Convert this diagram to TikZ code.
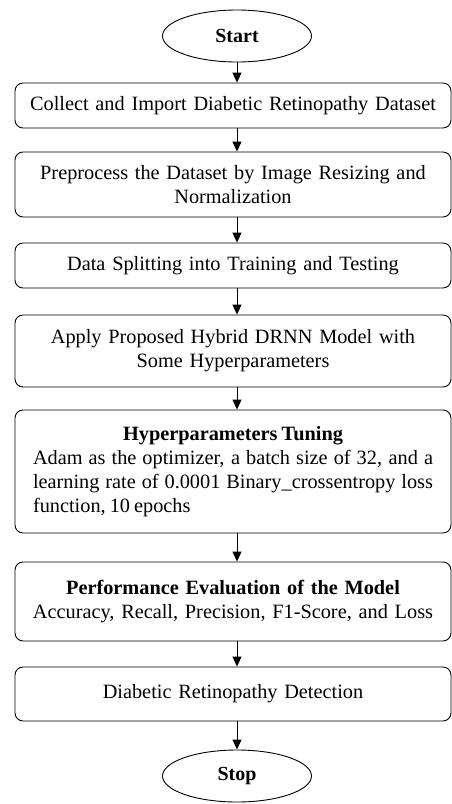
\documentclass[tikz,border=0pt]{standalone}
\usepackage{fontspec}
\setmainfont[WordSpace=0.8]{Liberation Serif}
\usetikzlibrary{shapes.geometric,arrows.meta}

\tikzset{
  stepbox/.style={draw, rounded corners=8pt, minimum width=436pt, text width=424pt,
                  align=center, inner sep=0pt, line width=0.9pt},
  terminal/.style={draw, ellipse, minimum width=149pt, minimum height=52pt,
                   inner sep=0pt, font=\fontsize{20}{24}\selectfont\bfseries, line width=0.9pt},
  flow/.style={-{Triangle[length=10pt,width=9pt]}, line width=0.9pt},
}

\begin{document}
\begin{tikzpicture}[x=1pt, y=-1pt, font=\fontsize{20.3}{24}\selectfont]
\useasboundingbox (0,0) rectangle (452,804);
\coordinate (spine) at (237,0);

\node[terminal] (start) at (237,36) {Start};
\node[stepbox, minimum height=45pt] (collect) at (233,105.5)
        {Collect and Import Diabetic Retinopathy Dataset};
\node[stepbox, minimum height=65pt] (prep) at (233,184.5)
        {Preprocess the Dataset by Image Resizing and\\ Normalization};
\node[stepbox, minimum height=45pt] (split) at (233,265.5)
        {Data Splitting into Training and Testing};
\node[stepbox, minimum height=72pt] (model) at (233,351)
        {Apply Proposed Hybrid DRNN Model with\\ Some Hyperparameters};
\node[stepbox, minimum height=123pt, text width=400pt, align=justify] (tune) at (233,471.5)
        {{\centering\textbf{Hyperparameters Tuning}\par}
         Adam as the optimizer, a batch size of 32, and a \linebreak
         learning rate of 0.0001 Binary\_crossentropy loss \linebreak
         function, 10 epochs};
\node[stepbox, minimum height=79pt] (eval) at (233,601.5)
        {\textbf{Performance Evaluation of the Model}\\
         Accuracy, Recall, Precision, F1-Score, and Loss};
\node[stepbox, minimum height=54pt] (detect) at (233,694)
        {Diabetic Retinopathy Detection};
\node[terminal] (stop) at (237,776) {Stop};

% arrows down the middle
\draw[flow] (start.south) -- (collect.north -| spine);
\draw[flow] (collect.south -| spine) -- (prep.north -| spine);
\draw[flow] (prep.south -| spine) -- (split.north -| spine);
\draw[flow] (split.south -| spine) -- (model.north -| spine);
\draw[flow] (model.south -| spine) -- (tune.north -| spine);
\draw[flow] (tune.south -| spine) -- (eval.north -| spine);
\draw[flow] (eval.south -| spine) -- (detect.north -| spine);
\draw[flow] (detect.south -| spine) -- (stop.north);
\end{tikzpicture}
\end{document}
